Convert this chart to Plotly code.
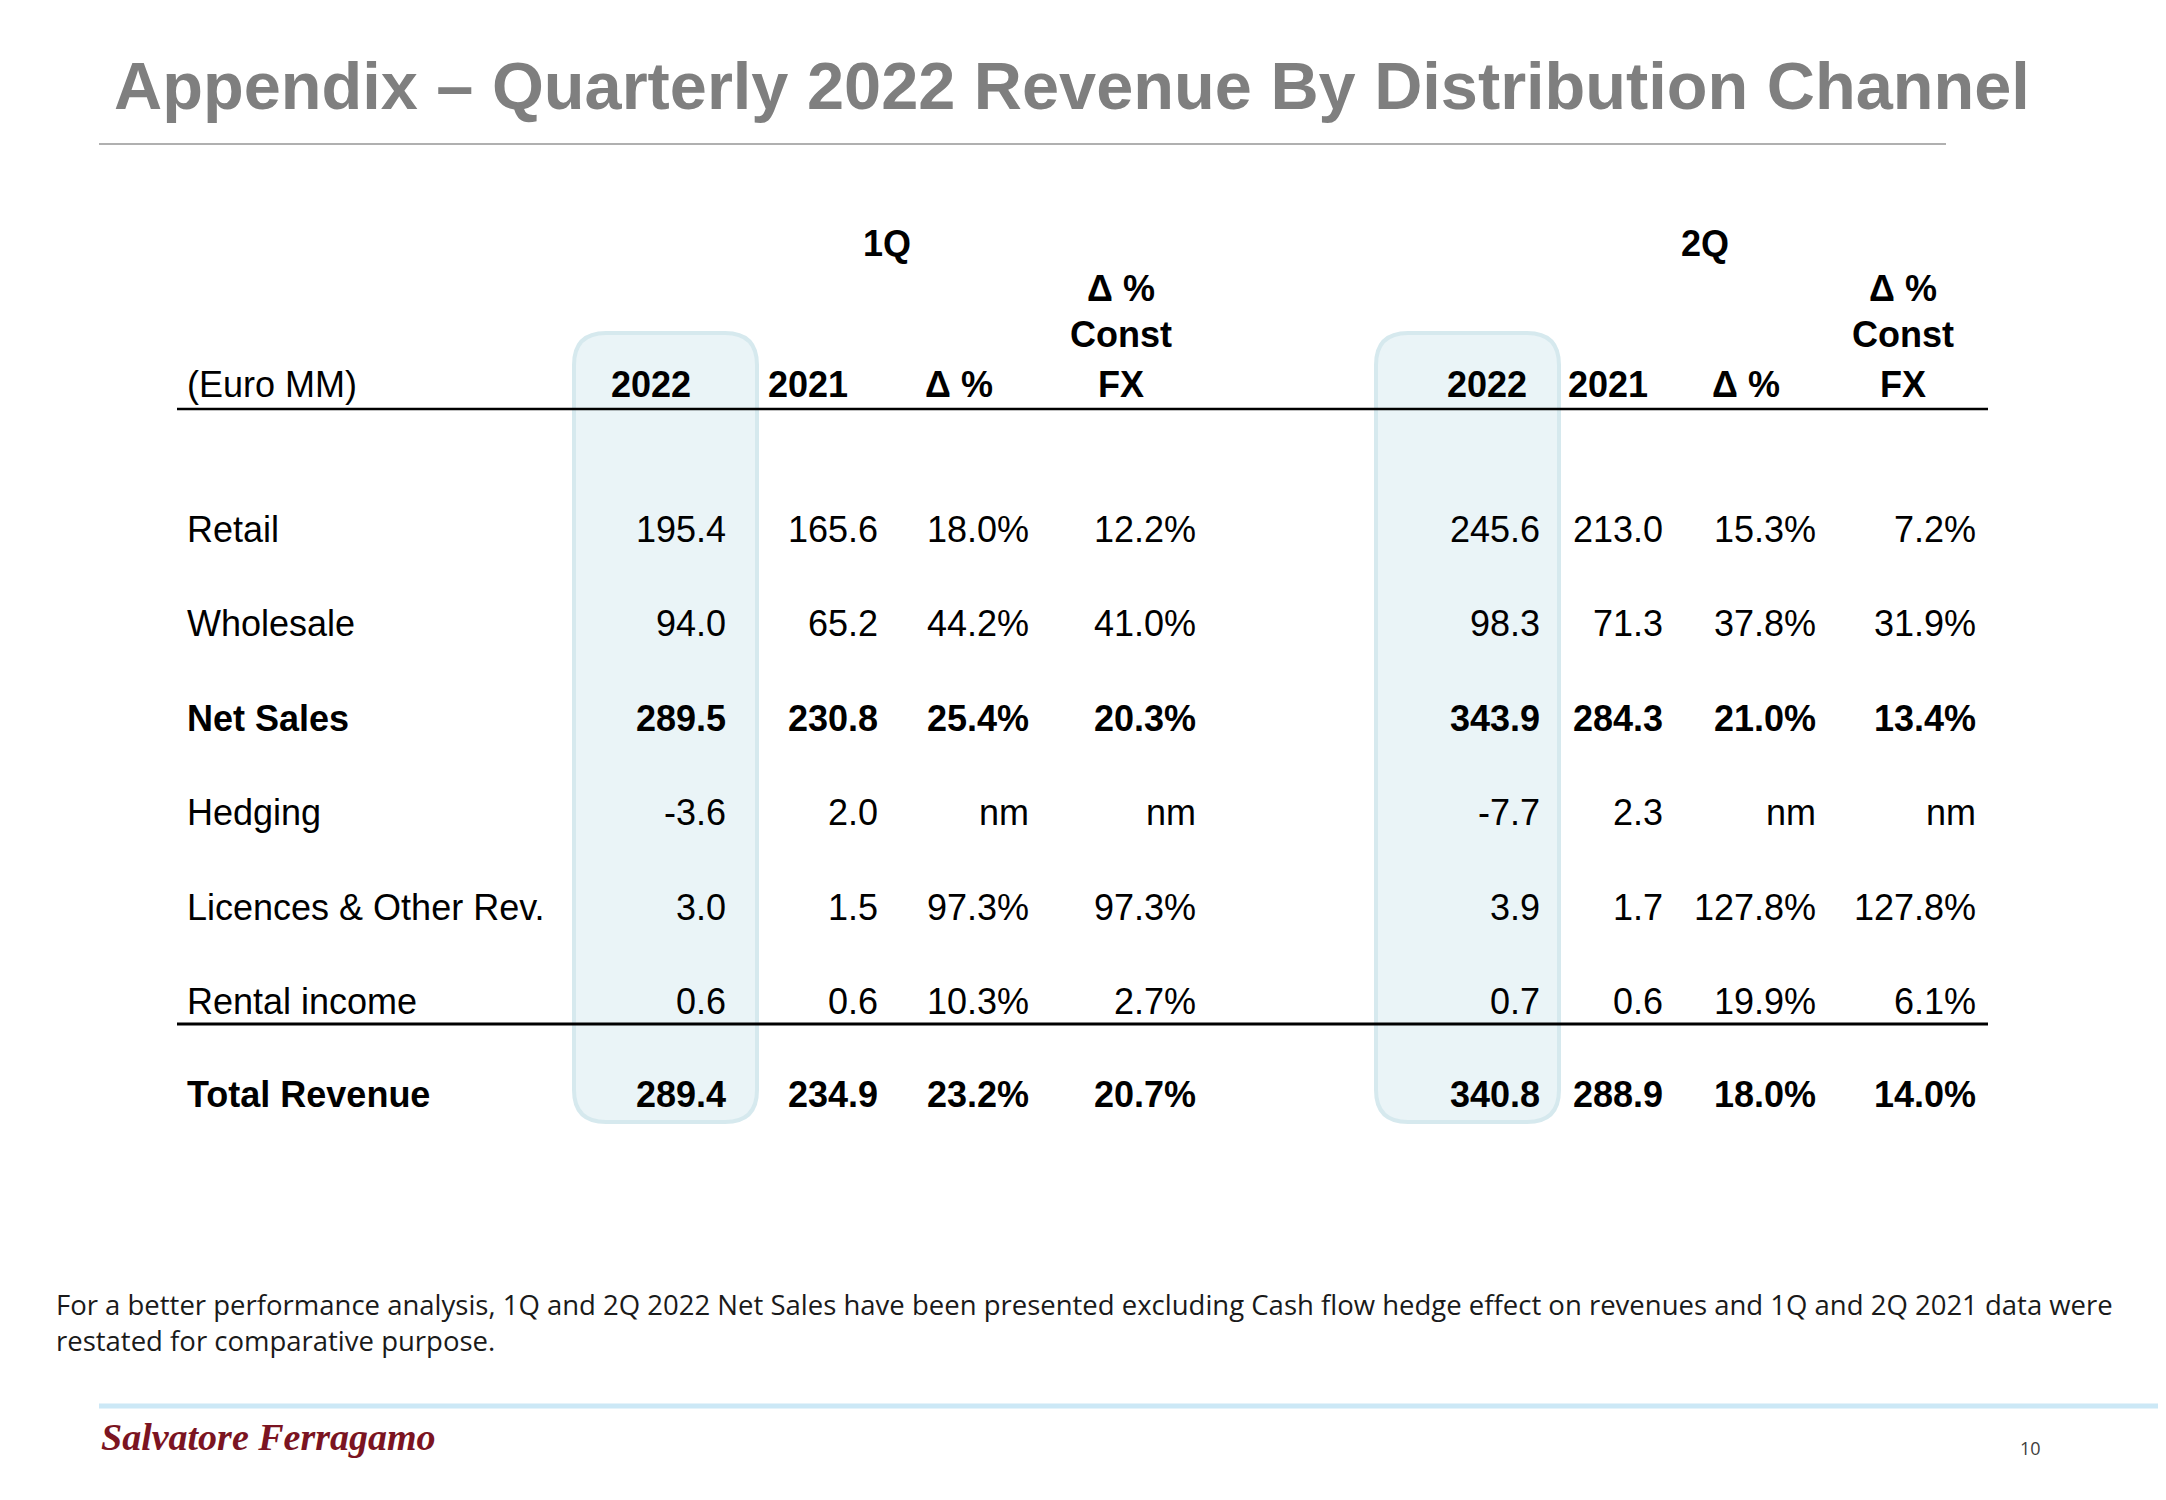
import plotly.graph_objects as go

# ---------------- data ----------------
row_labels = ["Retail", "Wholesale", "Net Sales", "Hedging",
              "Licences & Other Rev.", "Rental income", "Total Revenue"]
bold_rows = [False, False, True, False, False, False, True]

q1_2022 = [195.4, 94.0, 289.5, -3.6, 3.0, 0.6, 289.4]
q1_2021 = [165.6, 65.2, 230.8, 2.0, 1.5, 0.6, 234.9]
q1_delta = [18.0, 44.2, 25.4, None, 97.3, 10.3, 23.2]
q1_delta_fx = [12.2, 41.0, 20.3, None, 97.3, 2.7, 20.7]

q2_2022 = [245.6, 98.3, 343.9, -7.7, 3.9, 0.7, 340.8]
q2_2021 = [213.0, 71.3, 284.3, 2.3, 1.7, 0.6, 288.9]
q2_delta = [15.3, 37.8, 21.0, None, 127.8, 19.9, 18.0]
q2_delta_fx = [7.2, 31.9, 13.4, None, 127.8, 6.1, 14.0]

quarters = ["1Q", "2Q"]
col_headers = [["2022"], ["2021"], ["Δ %"], ["Δ %", "Const", "FX"]]
unit_label = "(Euro MM)"

title = "Appendix – Quarterly 2022 Revenue By Distribution Channel"
footnote = ("For a better performance analysis, 1Q and 2Q 2022 Net Sales have been presented "
            "excluding Cash flow hedge effect on revenues and 1Q and 2Q 2021 data were<br>"
            "restated for comparative purpose.")
logo_text = "Salvatore Ferragamo"
page_no = "10"

# ---------------- layout constants ----------------
W, H = 2166, 1500
OFF = 8  # page body margin
row_y = [529, 623, 718, 812, 907, 1001, 1094]
q1_right = [728, 880, 1031, 1198]
q2_right = [1542, 1665, 1818, 1978]
q1_head_center = [651, 808, 959, 1121]
q2_head_center = [1487, 1608, 1746, 1903]
head_line_y = [288, 334, 384]
label_x = 185
FONT = "Liberation Sans, Arial, sans-serif"
FS = 36

def fmt_num(v):
    return f"{v:.1f}"

def fmt_pct(v):
    return "nm" if v is None else f"{v:.1f}%"

fig = go.Figure()
fig.add_trace(go.Scatter(x=[OFF, W], y=[OFF, H], mode="markers",
                         marker=dict(opacity=0), hoverinfo="skip", showlegend=False))

annotations = []
shapes = []

def txt(x, y, text, size=FS, bold=False, color="#000000", xanchor="left",
        yanchor="middle", family=FONT, align="left", italic=False):
    annotations.append(dict(
        x=x, y=y, xref="x", yref="y", text=text, showarrow=False,
        xanchor=xanchor, yanchor=yanchor, align=align,
        font=dict(family=family, size=size, color=color,
                  weight="bold" if bold else "normal",
                  style="italic" if italic else "normal"),
    ))

def rounded_box(x0, x1, y0, y1, r):
    return (f"M {x0+r},{y0} L {x1-r},{y0} Q {x1},{y0} {x1},{y0+r} "
            f"L {x1},{y1-r} Q {x1},{y1} {x1-r},{y1} L {x0+r},{y1} "
            f"Q {x0},{y1} {x0},{y1-r} L {x0},{y0+r} Q {x0},{y0} {x0+r},{y0} Z")

for (bx0, bx1) in [(574, 757), (1376, 1559)]:
    shapes.append(dict(type="path", xref="x", yref="y",
                       path=rounded_box(bx0, bx1, 333, 1122, 32),
                       fillcolor="#eaf4f7", line=dict(color="#d6e9ee", width=4),
                       layer="below"))

# title + rule
txt(112, 86, title, size=66.7, bold=True, color="#7f7f7f")
shapes.append(dict(type="line", xref="x", yref="y", x0=99, x1=1946, y0=144, y1=144,
                   line=dict(color="#b0b0b0", width=2)))

# headers
txt(887, 243, quarters[0], bold=True, xanchor="center")
txt(1705, 243, quarters[1], bold=True, xanchor="center")
txt(label_x, 384, unit_label)
for centers in (q1_head_center, q2_head_center):
    for i, lines in enumerate(col_headers):
        ys = head_line_y[-len(lines):]
        for line, yy in zip(lines, ys):
            txt(centers[i], yy, line, bold=True, xanchor="center")

# rules
shapes.append(dict(type="line", xref="x", yref="y", x0=177, x1=1988, y0=409, y1=409,
                   line=dict(color="#000000", width=2.5)))
shapes.append(dict(type="line", xref="x", yref="y", x0=177, x1=1988, y0=1024, y1=1024,
                   line=dict(color="#000000", width=3)))

# body
cols = [(q1_2022, fmt_num), (q1_2021, fmt_num), (q1_delta, fmt_pct), (q1_delta_fx, fmt_pct),
        (q2_2022, fmt_num), (q2_2021, fmt_num), (q2_delta, fmt_pct), (q2_delta_fx, fmt_pct)]
rights = q1_right + q2_right
for r, lab in enumerate(row_labels):
    txt(label_x, row_y[r], lab, bold=bold_rows[r])
    for (vals, f), xr in zip(cols, rights):
        txt(xr, row_y[r], f(vals[r]), bold=bold_rows[r], xanchor="right")

# footnote
txt(54, 1322, footnote, size=27.5, family="Open Sans, sans-serif", color="#1a1a1a")

# blue rule
shapes.append(dict(type="line", xref="x", yref="y", x0=99, x1=W + OFF, y0=1406, y1=1406,
                   line=dict(color="#cce8f6", width=5)))

# logo + page number
txt(99, 1437, logo_text, size=38, family="Liberation Serif, serif", color="#7b1421",
    italic=True, bold=True)
txt(2030, 1448, page_no, size=18, family="Open Sans, sans-serif", color="#404040",
    xanchor="center")

fig.update_layout(
    width=W, height=H, margin=dict(l=0, r=0, t=0, b=0),
    paper_bgcolor="white", plot_bgcolor="white",
    xaxis=dict(range=[OFF, W + OFF], visible=False, fixedrange=True),
    yaxis=dict(range=[H + OFF, OFF], visible=False, fixedrange=True),
    annotations=annotations, shapes=shapes, showlegend=False,
)

fig.write_html("out.html")
